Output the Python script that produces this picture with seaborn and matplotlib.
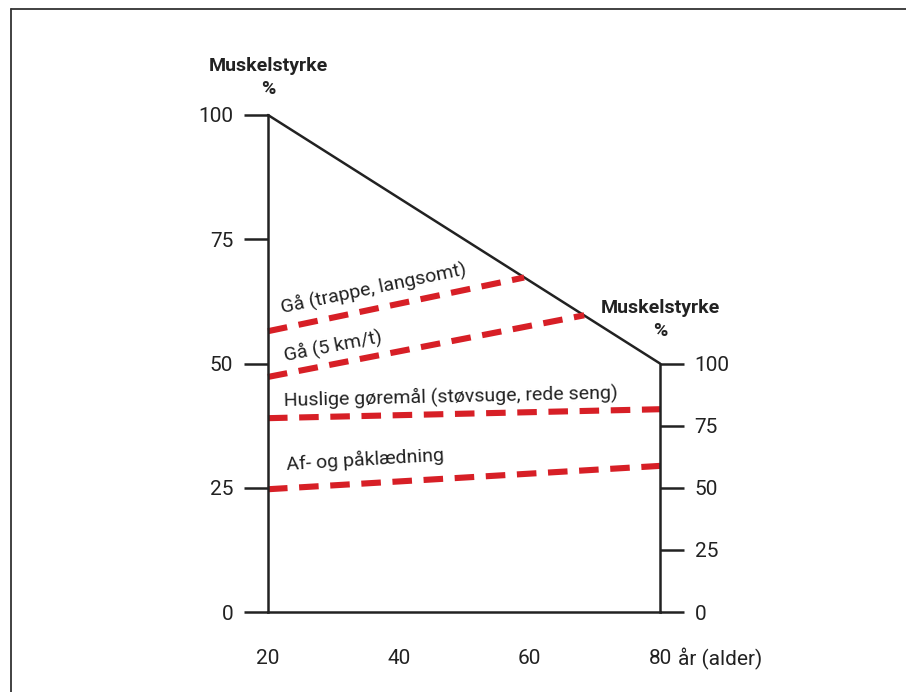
"""Muscle strength vs. age with the strength needed for daily tasks."""

import numpy as np
import pandas as pd
import matplotlib
matplotlib.use("Agg")
import matplotlib.pyplot as plt
from matplotlib.lines import Line2D
import seaborn as sns

# data
ALDER_STYRKE   = [20, 80]
STYRKE         = [100, 50]
AKTIVITETER    = ["Gå (trappe, langsomt)", "Gå (5 km/t)",
                  "Huslige gøremål (støvsuge, rede seng)", "Af- og påklædning"]
AKT_X          = [[20, 59.2], [20, 68.4], [20, 80], [20, 80]]
AKT_Y          = [[56.5, 67.3], [47.3, 59.7], [39.0, 40.8], [24.7, 29.4]]
LABEL_POS      = [(22.2, 60.1), (22.7, 50.6), (22.4, 41.6), (22.8, 28.6)]
X_TICKS        = [20, 40, 60, 80]
Y_TICKS        = [0, 25, 50, 75, 100]
Y2_TICKS       = [0, 25, 50, 75, 100]

RED  = "#d71f26"
INK  = "#222222"
FS   = 15
FS_T = 14

sns.set_style("white")
plt.rcParams["font.family"] = ["Roboto", "DejaVu Sans"]
plt.rcParams["text.color"] = INK

fig = plt.figure(figsize=(9.06, 6.92), dpi=100)
ax = fig.add_axes([268 / 906, 1 - 612 / 692, 392 / 906, 497 / 692])
ax.set_xlim(20, 80)
ax.set_ylim(0, 100)

df_styrke = pd.DataFrame({"alder": ALDER_STYRKE, "styrke": STYRKE})
sns.lineplot(data=df_styrke, x="alder", y="styrke", color=INK, lw=1.8,
             ax=ax, clip_on=False)

for navn, xs, ys in zip(AKTIVITETER, AKT_X, AKT_Y):
    sns.lineplot(x=xs, y=ys, color=RED, lw=4.4, ax=ax, clip_on=False,
                 linestyle=(0, (3.2, 1.9)), solid_capstyle="butt")

fig.canvas.draw()
for navn, xs, ys, (lx, ly) in zip(AKTIVITETER, AKT_X, AKT_Y, LABEL_POS):
    p0 = ax.transData.transform((xs[0], ys[0]))
    p1 = ax.transData.transform((xs[1], ys[1]))
    ang = np.degrees(np.arctan2(p1[1] - p0[1], p1[0] - p0[0]))
    ax.text(lx, ly, navn, rotation=ang, rotation_mode="anchor",
            ha="left", va="baseline", fontsize=FS_T, color=INK)

# axes styling
for side in ["top", "right"]:
    ax.spines[side].set_visible(False)
for side in ["left", "bottom"]:
    ax.spines[side].set_color(INK)
    ax.spines[side].set_linewidth(1.8)
ax.set_xticks(X_TICKS)
ax.set_yticks(Y_TICKS)
ax.set_xticklabels([str(v) for v in X_TICKS])
ax.tick_params(axis="both", direction="out", length=17, width=1.8,
               color=INK, labelsize=FS, labelcolor=INK)
ax.tick_params(axis="x", pad=10)
ax.tick_params(axis="y", pad=8)
ax.set_xlabel("")
ax.set_ylabel("")
ax.annotate("år (alder)", xy=(80, 0), xytext=(13, -25.5), textcoords="offset points",
            ha="left", va="top", fontsize=FS, color=INK)

# right axis, 100 % placed where the strength line ends
ax2 = ax.twinx()
ax2.set_ylim(0, 200)
for side in ["top", "left", "bottom"]:
    ax2.spines[side].set_visible(False)
ax2.spines["right"].set_bounds(0, 100)
ax2.spines["right"].set_color(INK)
ax2.spines["right"].set_linewidth(1.8)
ax2.set_yticks(Y2_TICKS)
ax2.tick_params(axis="y", direction="out", length=17, width=1.8,
                color=INK, labelsize=FS, labelcolor=INK, pad=8)
ax2.grid(False)
ax.grid(False)

# axis titles
ax.text(20, 107.6, "Muskelstyrke\n%", ha="center", va="center", fontsize=FS_T,
        fontweight="bold", linespacing=1.35, clip_on=False)
ax.text(80, 58.9, "Muskelstyrke\n%", ha="center", va="center", fontsize=FS_T,
        fontweight="bold", linespacing=1.35, clip_on=False)

# frame around the figure (left and top only visible)
fig.add_artist(Line2D([11 / 906, 11 / 906], [0, 1 - 9 / 692], color="#333333",
                      lw=1.3, transform=fig.transFigure))
fig.add_artist(Line2D([11 / 906, 1], [1 - 9 / 692, 1 - 9 / 692], color="#333333",
                      lw=1.3, transform=fig.transFigure))

fig.savefig("out.png", dpi=100)
plt.close(fig)
